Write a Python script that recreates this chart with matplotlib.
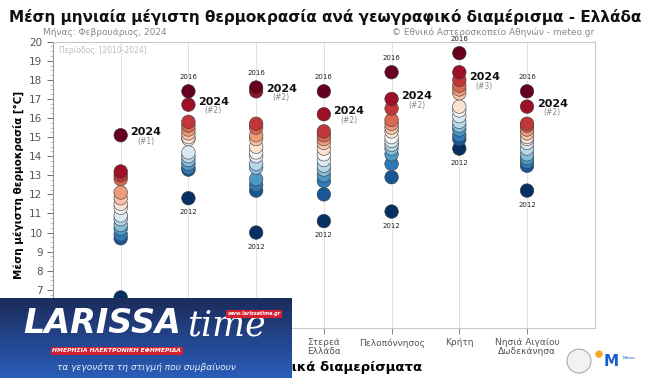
import matplotlib.pyplot as plt
import numpy as np
from matplotlib.patches import Circle
from matplotlib.colors import LinearSegmentedColormap

# data: mean monthly max temperature (Feb), 15 years 2010-2024 per region
regions = ["Μακεδονία\nΘράκη", "Ήπειρος", "Θεσσαλία", "Στερεά\nΕλλάδα",
           "Πελοπόννησος", "Κρήτη", "Νησιά Αιγαίου\nΔωδεκάνησα"]
temps = [
    [15.1, 13.2, 13.0, 12.8, 12.1, 11.8, 11.5, 11.3, 10.9, 10.7, 10.4, 10.2, 9.9, 9.7, 6.6],
    [17.4, 16.7, 15.8, 15.6, 15.4, 15.2, 15.0, 14.9, 14.2, 14.0, 13.8, 13.6, 13.4, 13.3, 11.8],
    [17.6, 17.4, 15.7, 15.5, 15.1, 14.9, 14.5, 14.2, 14.0, 13.6, 13.4, 12.8, 12.5, 12.2, 10.0],
    [17.4, 16.2, 15.3, 15.1, 14.9, 14.7, 14.4, 14.1, 13.8, 13.5, 13.3, 13.0, 12.7, 12.0, 10.6],
    [18.4, 17.0, 16.5, 15.9, 15.7, 15.5, 15.3, 15.0, 14.8, 14.6, 14.4, 14.1, 13.6, 12.9, 11.1],
    [19.4, 18.4, 18.0, 17.7, 17.5, 17.3, 16.6, 16.4, 16.1, 15.8, 15.6, 15.4, 15.1, 14.9, 14.4],
    [17.4, 16.6, 15.7, 15.6, 15.4, 15.2, 15.0, 14.9, 14.7, 14.4, 14.1, 13.9, 13.7, 13.5, 12.2],
]
t2024 = [15.1, 16.7, 17.4, 16.2, 17.0, 18.0, 16.6]
max_year = "2016"
min_year = "2012"

fig = plt.figure(figsize=(6.5, 3.78), dpi=100)
ax = fig.add_axes([0.0815, 0.1323, 0.8335, 0.7574])

cmap = plt.get_cmap("RdBu_r")
for i, vals in enumerate(temps):
    x = i + 1
    v = np.sort(np.array(vals))
    cols = cmap(np.arange(len(v)) / (len(v) - 1))
    ax.scatter(np.full(len(v), x), v, s=95, c=cols, edgecolors="#3a3a3a",
               linewidths=0.4, zorder=3)
    rank = int(np.sum(v > t2024[i])) + 1
    ax.annotate("2024", (x, t2024[i]), xytext=(7, 2), textcoords="offset points",
                fontsize=8, fontweight="bold", color="#111", ha="left", va="center")
    ax.annotate("(#%d)" % rank, (x, t2024[i]), xytext=(18, -4.5), textcoords="offset points",
                fontsize=5.5, color="#888", ha="center", va="center")
    if rank != 1:
        ax.annotate(max_year, (x, v.max()), xytext=(0, 8), textcoords="offset points",
                    fontsize=5, color="#222", ha="center", va="bottom")
    ax.annotate(min_year, (x, v.min()), xytext=(0, -8), textcoords="offset points",
                fontsize=5, color="#222", ha="center", va="top")

ax.set_xlim(0, 8)
ax.set_ylim(5, 20)
ax.set_xticks(range(1, 8))
ax.set_xticklabels(regions, fontsize=6.5, color="#555", linespacing=1.0)
ax.set_yticks(range(5, 21))
ax.set_yticks(np.arange(5, 20.01, 0.25), minor=True)
ax.tick_params(axis="y", labelsize=7.5, colors="#555", length=4, width=0.6)
ax.tick_params(axis="y", which="minor", length=2, width=0.4, colors="#999")
ax.tick_params(axis="x", length=4, width=0.6, colors="#777", labelcolor="#555")
ax.grid(axis="x", color="#e3e3e3", linewidth=0.7, zorder=0)
for s in ax.spines.values():
    s.set_color("#c8c8c8")
    s.set_linewidth(0.8)
ax.spines["left"].set_color("#999")

ax.set_ylabel("Μέση μέγιστη θερμοκρασία [°C]", fontsize=7.5, fontweight="bold", labelpad=4)
ax.set_xlabel("Γεωγραφικά διαμερίσματα", fontsize=9.5, fontweight="bold", labelpad=3)
ax.text(0.012, 0.985, "Περίοδος: [2010-2024]", transform=ax.transAxes, fontsize=5.5,
        color="#bbb", va="top")

fig.text(0.5, 0.977, "Μέση μηνιαία μέγιστη θερμοκρασία ανά γεωγραφικό διαμέρισμα - Ελλάδα",
         ha="center", va="top", fontsize=11, fontweight="bold", color="#111")
fig.text(0.066, 0.915, "Μήνας: Φεβρουάριος, 2024", fontsize=6.5, color="#888", va="center")
fig.text(0.915, 0.915, "© Εθνικό Αστεροσκοπείο Αθηνών - meteo.gr", fontsize=6.5,
         color="#888", va="center", ha="right")

# logos bottom right
lax = fig.add_axes([0.86, 0.0, 0.14, 0.1])
lax.set_xlim(0, 91)
lax.set_ylim(0, 38)
lax.axis("off")
lax.add_patch(Circle((20, 17), 12, facecolor="#f2f2f2", edgecolor="#aaa", lw=0.8))
lax.add_patch(Circle((40, 24), 3, color="#f5a623"))
lax.text(52, 17, "M", fontsize=11, fontweight="bold", color="#1a5fd0", ha="center", va="center")
lax.text(64, 20, "Meteo", fontsize=3, color="#1a5fd0", va="center")

# overlay banner bottom left
bax = fig.add_axes([0.0, 0.0, 292 / 650, 80 / 378])
grad = np.linspace(0, 1, 50).reshape(-1, 1)
bcm = LinearSegmentedColormap.from_list("b", ["#1c2c5c", "#2a5db8"])
bax.imshow(grad, aspect="auto", cmap=bcm, extent=(0, 1, 0, 1), origin="upper")
bax.set_xlim(0, 1)
bax.set_ylim(0, 1)
bax.axis("off")
bax.text(0.08, 0.68, "LARISSA", fontsize=24, fontweight="bold", style="italic",
         color="white", va="center")
bax.text(0.64, 0.66, "time", fontsize=25, family="DejaVu Serif", style="italic",
         color="white", va="center")
bax.text(0.87, 0.80, "www.larissatime.gr", fontsize=3.5, fontweight="bold", style="italic",
         color="white", ha="center", va="center",
         bbox=dict(boxstyle="square,pad=0.3", fc="#d42030", ec="none"))
bax.text(0.4, 0.34, "ΗΜΕΡΗΣΙΑ ΗΛΕΚΤΡΟΝΙΚΗ ΕΦΗΜΕΡΙΔΑ", fontsize=4.3, fontweight="bold",
         style="italic", color="white", ha="center", va="center",
         bbox=dict(boxstyle="square,pad=0.3", fc="#d42030", ec="none"))
bax.text(0.5, 0.14, "τα γεγονότα τη στιγμή που συμβαίνουν", fontsize=6.5, style="italic",
         color="#e8eef8", ha="center", va="center")

fig.savefig("out.png", dpi=100)
